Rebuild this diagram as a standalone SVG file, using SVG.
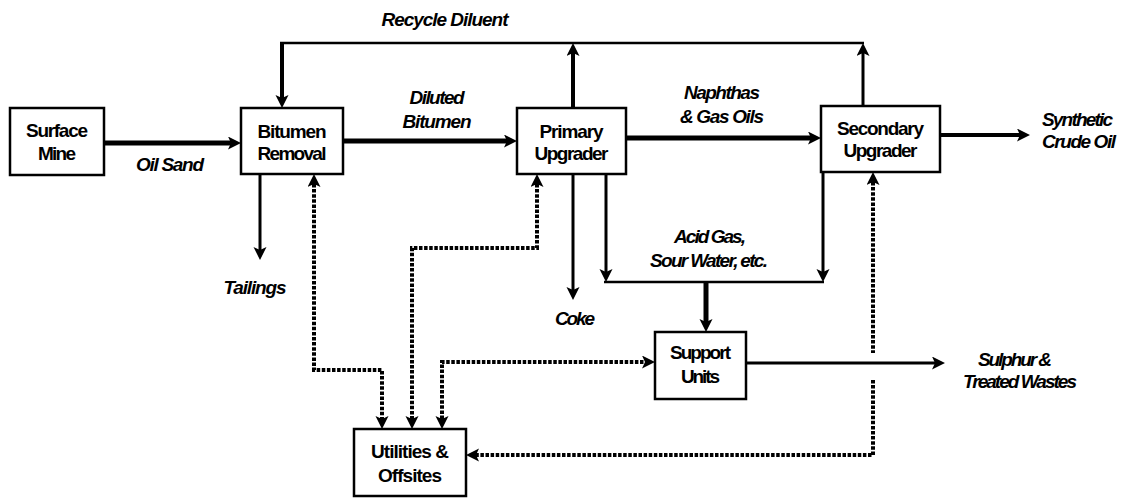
<svg xmlns="http://www.w3.org/2000/svg" width="1125" height="498" viewBox="0 0 1125 498">
  <defs>
    <style>
      .box { fill: #ffffff; stroke: #000000; stroke-width: 2.5; }
      .node { font-family: "Liberation Sans", Arial, sans-serif; font-weight: bold; font-size: 19px; text-anchor: middle; fill: #000000; }
      .lbl { font-family: "Liberation Sans", Arial, sans-serif; font-weight: bold; font-style: italic; font-size: 19px; text-anchor: middle; fill: #000000; }
      .flow { fill: none; stroke: #000000; }
      .w5 { stroke-width: 5; }
      .w4 { stroke-width: 4; }
      .w3 { stroke-width: 3; }
      .w2 { stroke-width: 2.5; }
      .util { fill: none; stroke: #000000; stroke-width: 4; stroke-dasharray: 3.5 1.6; }
    </style>
    <marker id="arrow" markerUnits="userSpaceOnUse" markerWidth="14" markerHeight="14" refX="3" refY="6.5" orient="auto-start-reverse">
      <path d="M0,0 L13,6.5 L0,13 L3,6.5 Z" fill="#000000"/>
    </marker>
  </defs>

  <!-- process streams -->
  <g id="connectors">
    <!-- oil sand to bitumen removal -->
    <path class="flow w5" d="M104,143 H231" marker-end="url(#arrow)"/>
    <!-- diluted bitumen -->
    <path class="flow w5" d="M343,141 H507" marker-end="url(#arrow)"/>
    <!-- naphthas and gas oils -->
    <path class="flow w5" d="M626,138 H811" marker-end="url(#arrow)"/>
    <!-- synthetic crude product -->
    <path class="flow w4" d="M940,135 H1020" marker-end="url(#arrow)"/>

    <!-- recycle diluent loop -->
    <path class="flow w2" d="M280,43 H864"/>
    <path class="flow w4" d="M282,42 V98" marker-end="url(#arrow)"/>
    <path class="flow w4" d="M573,108 V53" marker-end="url(#arrow)"/>
    <path class="flow w3" d="M863,106 V53" marker-end="url(#arrow)"/>

    <!-- tailings and coke -->
    <path class="flow w3" d="M260,174 V250" marker-end="url(#arrow)"/>
    <path class="flow w3" d="M573,174 V290" marker-end="url(#arrow)"/>

    <!-- acid gas / sour water collection -->
    <path class="flow w3" d="M606,174 V272" marker-end="url(#arrow)"/>
    <path class="flow w3" d="M823,172 V272" marker-end="url(#arrow)"/>
    <path class="flow w2" d="M604,282 H824"/>
    <path class="flow w5" d="M706,282 V322" marker-end="url(#arrow)"/>

    <!-- sulphur and treated wastes -->
    <path class="flow w3" d="M746,363 H935" marker-end="url(#arrow)"/>

    <!-- utility services (two-way) -->
    <path class="util" d="M314,184 V370 H382 V419" marker-start="url(#arrow)" marker-end="url(#arrow)"/>
    <path class="util" d="M537,184 V248 H412 V419" marker-start="url(#arrow)" marker-end="url(#arrow)"/>
    <path class="util" d="M442,419 V362 H645" marker-start="url(#arrow)" marker-end="url(#arrow)"/>
    <path class="util" d="M873,182 V353 M873,380 V455 H476" marker-start="url(#arrow)" marker-end="url(#arrow)"/>
  </g>

  <!-- stream labels -->
  <g id="labels">
    <text class="lbl" x="445" y="26" textLength="127">Recycle Diluent</text>
    <text class="lbl" x="170" y="171" textLength="68">Oil Sand</text>
    <text class="lbl" x="437" y="104" textLength="55">Diluted</text>
    <text class="lbl" x="437" y="128" textLength="69">Bitumen</text>
    <text class="lbl" x="722" y="99" textLength="76">Naphthas</text>
    <text class="lbl" x="722" y="123" textLength="84">&amp; Gas Oils</text>
    <text class="lbl" x="1042" y="126" style="text-anchor:start" textLength="71">Synthetic</text>
    <text class="lbl" x="1042" y="148" style="text-anchor:start" textLength="74">Crude Oil</text>
    <text class="lbl" x="255" y="294" textLength="63">Tailings</text>
    <text class="lbl" x="575" y="325" textLength="40">Coke</text>
    <text class="lbl" x="710" y="243" textLength="72">Acid Gas,</text>
    <text class="lbl" x="709" y="267" textLength="118">Sour Water, etc.</text>
    <text class="lbl" x="1015" y="366" textLength="74">Sulphur &amp;</text>
    <text class="lbl" x="1020" y="388" textLength="114">Treated Wastes</text>
  </g>

  <g id="surface-mine">
    <rect class="box" x="10" y="108" width="94" height="67"/>
    <text class="node" x="57" y="137" textLength="62">Surface</text>
    <text class="node" x="57" y="160" textLength="38">Mine</text>
  </g>

  <g id="bitumen-removal">
    <rect class="box" x="241" y="108" width="102" height="66"/>
    <text class="node" x="292" y="138" textLength="69">Bitumen</text>
    <text class="node" x="292" y="160" textLength="69">Removal</text>
  </g>

  <g id="primary-upgrader">
    <rect class="box" x="517" y="108" width="109" height="66"/>
    <text class="node" x="571.5" y="138" textLength="64">Primary</text>
    <text class="node" x="571.5" y="160" textLength="74">Upgrader</text>
  </g>

  <g id="secondary-upgrader">
    <rect class="box" x="821" y="106" width="119" height="66"/>
    <text class="node" x="880.5" y="135" textLength="87">Secondary</text>
    <text class="node" x="880.5" y="157" textLength="74">Upgrader</text>
  </g>

  <g id="support-units">
    <rect class="box" x="655" y="332" width="91" height="67"/>
    <text class="node" x="700.5" y="359" textLength="61">Support</text>
    <text class="node" x="700.5" y="383" textLength="39">Units</text>
  </g>

  <g id="utilities-offsites">
    <rect class="box" x="354" y="429" width="112" height="67"/>
    <text class="node" x="410" y="458" textLength="78">Utilities &amp;</text>
    <text class="node" x="410" y="482" textLength="64">Offsites</text>
  </g>
</svg>
